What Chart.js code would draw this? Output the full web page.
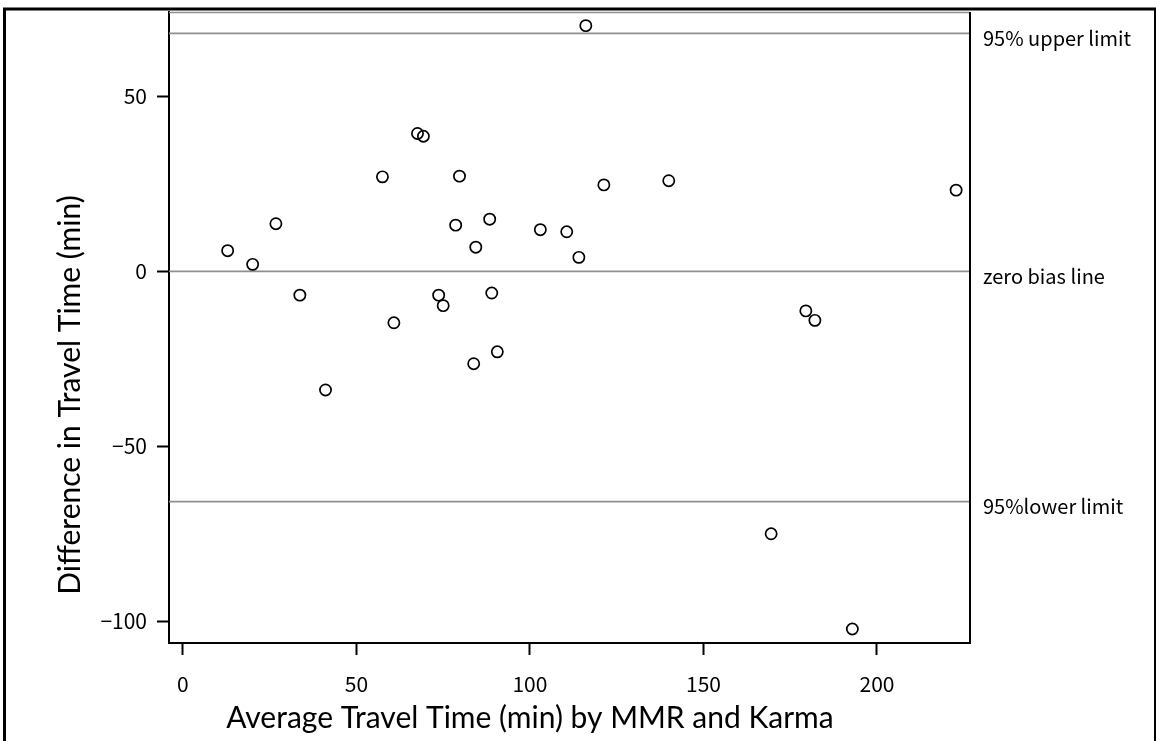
<!DOCTYPE html>
<html>
<head>
<meta charset="utf-8">
<script src="https://cdn.jsdelivr.net/npm/chart.js@4.4.1/dist/chart.umd.min.js"></script>
<style>
  html, body { margin: 0; padding: 0; background: #fff; }
  #wrap { width: 1156px; height: 741px; }
</style>
</head>
<body>
<div id="wrap"><canvas id="chart" width="1156" height="741"></canvas></div>
<script>
// Bland-Altman: mean of the two travel times vs. their difference
const avgTime = [12.9, 20.1, 26.8, 33.7, 41.1, 57.5, 60.8, 67.6, 69.3, 73.7,
  75.0, 78.6, 79.7, 83.8, 84.4, 88.4, 89.0, 90.6, 103.0, 110.6,
  114.1, 116.1, 121.3, 140.0, 169.5, 179.5, 182.1, 192.9, 222.8];
const diffTime = [5.9, 2.0, 13.6, -6.8, -33.9, 27.0, -14.7, 39.4, 38.6, -6.8,
  -9.8, 13.2, 27.2, -26.4, 6.9, 14.9, -6.2, -23.0, 11.9, 11.3,
  4.0, 70.2, 24.7, 25.9, -75.0, -11.3, -14.0, -102.2, 23.2];

const xTicks = [0, 50, 100, 150, 200];
const yTicks = [-100, -50, 0, 50];
const xRange = [-4.0, 226.8];
const yRange = [-106.2, 74.1];

const limitValues = [68.0, 0, -65.8];
const limitLabels = ['95% upper limit', 'zero bias line', '95%lower limit'];

const xTitle = 'Average Travel Time (min) by MMR and Karma';
const yTitle = 'Difference in Travel Time (min)';

const tickFont = { family: '"Noto Sans CJK JP", "Noto Sans", sans-serif', size: 21 };
const titleFont = '30px Lato, "Open Sans", sans-serif';
const noteFont = '20px "Noto Sans CJK JP", "Noto Sans", sans-serif';

const points = avgTime.map((x, i) => ({ x, y: diffTime[i] }));

const limitSets = limitValues.map((v) => ({
  type: 'line',
  data: [{ x: xRange[0], y: v }, { x: xRange[1], y: v }],
  borderColor: '#8f8f8f',
  borderWidth: 1.6,
  pointRadius: 0,
  fill: false,
  order: 2,
}));

// frame, plot edges, titles and the labels next to the limit lines
const decorations = {
  id: 'decorations',
  afterDraw(chart) {
    const { ctx, chartArea: a, scales } = chart;
    ctx.save();

    ctx.strokeStyle = '#000';
    ctx.lineWidth = 3;
    ctx.strokeRect(4.5, 9, 1151, 800);

    ctx.lineWidth = 1.6;
    ctx.strokeStyle = '#8f8f8f';
    ctx.beginPath();
    ctx.moveTo(a.left, a.top + 0.5);
    ctx.lineTo(a.right, a.top + 0.5);
    ctx.stroke();

    ctx.lineWidth = 2;
    ctx.strokeStyle = '#000';
    ctx.beginPath();
    ctx.moveTo(a.right, a.top);
    ctx.lineTo(a.right, a.bottom + 1);
    ctx.stroke();

    ctx.fillStyle = '#000';
    ctx.font = noteFont;
    ctx.textAlign = 'left';
    ctx.textBaseline = 'middle';
    limitValues.forEach((v, i) => {
      ctx.fillText(limitLabels[i], 983, scales.y.getPixelForValue(v) + 5);
    });

    ctx.font = titleFont;
    ctx.textAlign = 'center';
    ctx.fillText(xTitle, scales.x.getPixelForValue(100), 718);

    ctx.translate(70, 395);
    ctx.rotate(-Math.PI / 2);
    ctx.fillText(yTitle, 0, 0);

    ctx.restore();
  },
};

const minusSign = (v) => String(v).replace('-', '\u2212');

const axisStyle = {
  grid: { drawOnChartArea: false, tickLength: 12, tickColor: '#000', tickWidth: 2 },
  border: { display: true, color: '#000', width: 2 },
  ticks: { color: '#000', font: tickFont, callback: minusSign },
};

// keep the plot box fixed: no extra room reserved for edge labels
const noEdgePadding = (s) => {
  s.paddingTop = 0;
  s.paddingBottom = 0;
  s.paddingLeft = 0;
  s.paddingRight = 0;
};

new Chart(document.getElementById('chart'), {
  type: 'scatter',
  data: {
    datasets: [
      {
        data: points,
        pointStyle: 'circle',
        pointRadius: 5.6,
        pointBorderWidth: 1.7,
        borderColor: '#000',
        backgroundColor: 'rgba(0,0,0,0)',
        order: 1,
      },
      ...limitSets,
    ],
  },
  options: {
    responsive: false,
    animation: false,
    devicePixelRatio: 1,
    layout: { padding: { top: 12, right: 186, left: 0, bottom: 0 } },
    plugins: { legend: { display: false }, tooltip: { enabled: false } },
    scales: {
      x: {
        type: 'linear',
        min: xRange[0],
        max: xRange[1],
        ...axisStyle,
        ticks: { ...axisStyle.ticks, padding: 16, maxRotation: 0 },
        afterBuildTicks: (s) => { s.ticks = xTicks.map((value) => ({ value })); },
        afterFit: (s) => { s.height = 98; noEdgePadding(s); },
      },
      y: {
        type: 'linear',
        min: yRange[0],
        max: yRange[1],
        ...axisStyle,
        ticks: { ...axisStyle.ticks, padding: 10 },
        afterBuildTicks: (s) => { s.ticks = yTicks.map((value) => ({ value })); },
        afterFit: (s) => { s.width = 169; noEdgePadding(s); },
      },
    },
  },
  plugins: [decorations],
});
</script>
</body>
</html>
